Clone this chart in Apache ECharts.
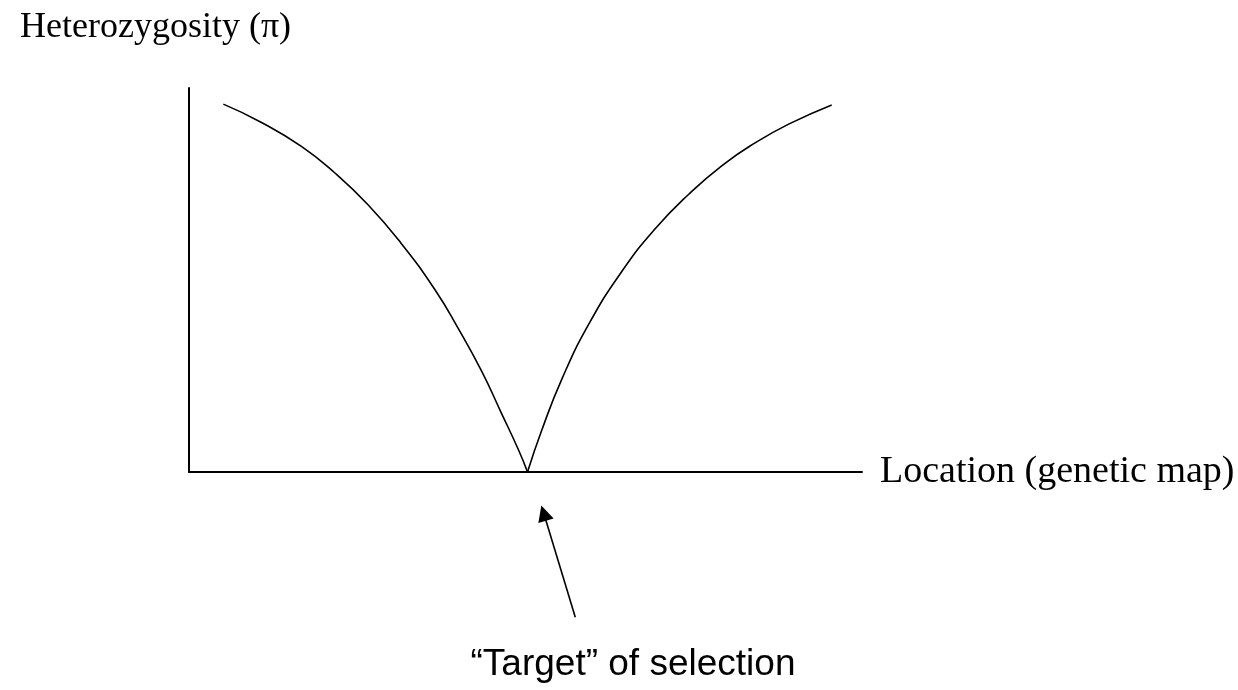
<!DOCTYPE html>
<html>
<head>
<meta charset="utf-8">
<title>Heterozygosity around a selected site</title>
<script src="https://cdn.jsdelivr.net/npm/echarts@6/dist/echarts.min.js"></script>
<style>
  html, body { margin: 0; padding: 0; background: #fff; }
  #chart { width: 1238px; height: 690px; }
</style>
</head>
<body>
<div id="chart"></div>
<script>
// curve (location 0-100, heterozygosity 0-100)
// left branch falls to the target, right branch climbs back up
const leftX = [5.1, 10.7, 16.7, 21.6, 26.6, 31.5, 36.5, 40.0, 43.5, 46.4, 49.0, 50.3]
const leftY = [95.8, 91.1, 84.8, 78.0, 69.6, 59.6, 47.6, 37.4, 26.2, 15.4, 5.6, 0]
const rightX = [50.3, 52.4, 55.4, 59.4, 64.3, 69.2, 74.3, 79.2, 84.1, 89.1, 95.5]
const rightY = [0, 10.8, 24.2, 38.5, 52.2, 63.2, 72.4, 79.8, 85.7, 90.6, 95.6]

// arrow pointing at the target, from tail to tip (same units, below the axis)
const arrowFrom = [57.4, -37.8]
const arrowTo = [52.7, -10.7]

const yTitle = 'Heterozygosity (π)'
const xTitle = 'Location (genetic map)'
const targetText = '“Target” of selection'

const toPairs = (xs, ys) => xs.map((x, i) => [x, ys[i]])

const chart = echarts.init(document.getElementById('chart'))

const branch = (data) => ({
  type: 'line',
  data: data,
  smooth: 0.5,
  symbol: 'none',
  silent: true,
  lineStyle: { color: '#000', width: 1.6 }
})

chart.setOption({
  backgroundColor: '#fff',
  animation: false,
  title: [
    {
      text: yTitle,
      left: 15,
      top: 5,
      textStyle: {
        fontFamily: 'Liberation Serif',
        fontSize: 36,
        fontWeight: 'normal',
        color: '#000'
      }
    },
    {
      text: targetText,
      left: 628,
      top: 641,
      textAlign: 'center',
      textStyle: {
        fontFamily: 'Liberation Sans',
        fontSize: 37,
        fontWeight: 'normal',
        color: '#000'
      }
    }
  ],
  grid: {
    left: 189,
    right: 376,
    top: 88,
    bottom: 218
  },
  xAxis: {
    type: 'value',
    min: 0,
    max: 100,
    name: xTitle,
    nameLocation: 'end',
    nameGap: 18,
    nameTextStyle: {
      fontFamily: 'Liberation Serif',
      fontSize: 38,
      color: '#000'
    },
    axisLine: { lineStyle: { color: '#000', width: 2 } },
    axisTick: { show: false },
    axisLabel: { show: false },
    splitLine: { show: false }
  },
  yAxis: {
    type: 'value',
    min: 0,
    max: 100,
    axisLine: { show: true, lineStyle: { color: '#000', width: 2 } },
    axisTick: { show: false },
    axisLabel: { show: false },
    splitLine: { show: false }
  },
  series: [
    branch(toPairs(leftX, leftY)),
    branch(toPairs(rightX, rightY)),
    {
      type: 'lines',
      coordinateSystem: 'cartesian2d',
      clip: false,
      silent: true,
      symbol: ['none', 'triangle'],
      symbolSize: [15, 16],
      lineStyle: { color: '#000', width: 1.6, opacity: 1 },
      data: [{ coords: [arrowFrom, arrowTo] }]
    }
  ]
})
</script>
</body>
</html>
